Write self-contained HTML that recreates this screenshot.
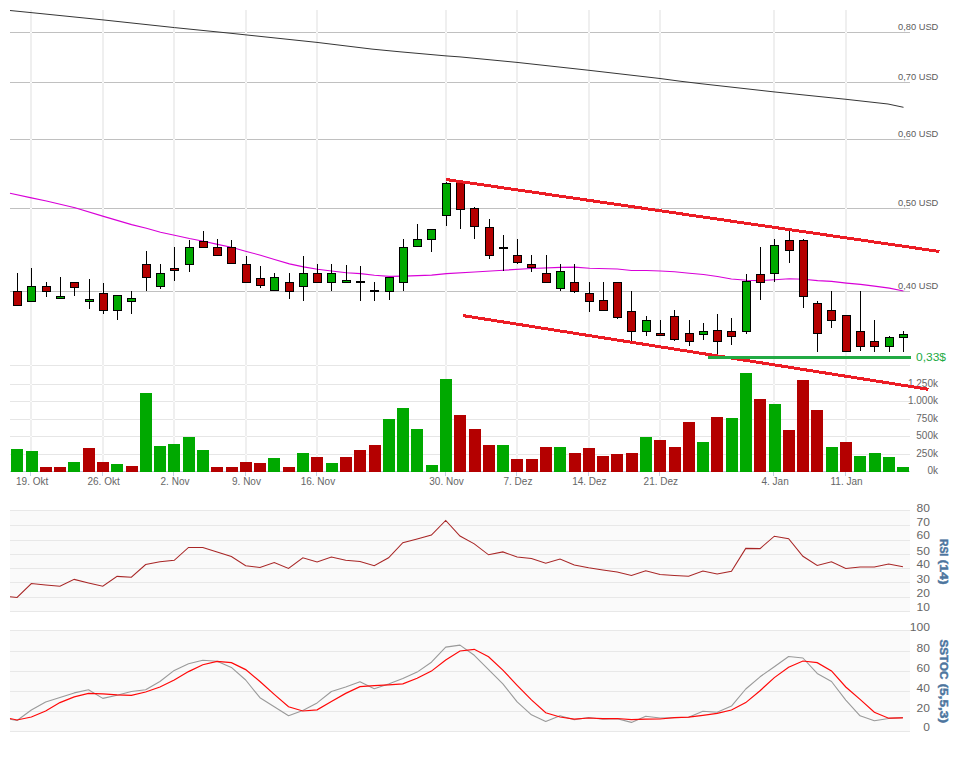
<!DOCTYPE html><html><head><meta charset="utf-8"><title>Chart</title><style>
html,body{margin:0;padding:0;background:#fff;}svg{display:block;}
text{font-family:"Liberation Sans",Arial,sans-serif;}
</style></head><body>
<svg width="968" height="765" viewBox="0 0 968 765">
<rect x="0" y="0" width="968" height="765" fill="#fff"/>
<rect x="10" y="32" width="900" height="1" fill="#c0c0c0"/>
<rect x="10" y="82" width="900" height="1" fill="#c0c0c0"/>
<rect x="10" y="139" width="900" height="1" fill="#c0c0c0"/>
<rect x="10" y="208" width="900" height="1" fill="#c0c0c0"/>
<rect x="10" y="291" width="900" height="1" fill="#c0c0c0"/>
<rect x="10" y="365" width="900" height="1" fill="#e6e6e6"/>
<rect x="10" y="384" width="900" height="1" fill="#e6e6e6"/>
<rect x="10" y="401" width="900" height="1" fill="#e6e6e6"/>
<rect x="10" y="419" width="900" height="1" fill="#e6e6e6"/>
<rect x="10" y="436" width="900" height="1" fill="#e6e6e6"/>
<rect x="10" y="454" width="900" height="1" fill="#e6e6e6"/>
<rect x="30" y="10" width="2" height="461" fill="#efefef"/>
<rect x="30" y="32" width="2" height="1" fill="#f9f9f9"/>
<rect x="30" y="82" width="2" height="1" fill="#f9f9f9"/>
<rect x="30" y="139" width="2" height="1" fill="#f9f9f9"/>
<rect x="30" y="208" width="2" height="1" fill="#f9f9f9"/>
<rect x="30" y="291" width="2" height="1" fill="#f9f9f9"/>
<rect x="30" y="365" width="2" height="1" fill="#f9f9f9"/>
<rect x="30" y="384" width="2" height="1" fill="#f9f9f9"/>
<rect x="30" y="401" width="2" height="1" fill="#f9f9f9"/>
<rect x="30" y="419" width="2" height="1" fill="#f9f9f9"/>
<rect x="30" y="436" width="2" height="1" fill="#f9f9f9"/>
<rect x="30" y="454" width="2" height="1" fill="#f9f9f9"/>
<rect x="102" y="10" width="2" height="461" fill="#efefef"/>
<rect x="102" y="32" width="2" height="1" fill="#f9f9f9"/>
<rect x="102" y="82" width="2" height="1" fill="#f9f9f9"/>
<rect x="102" y="139" width="2" height="1" fill="#f9f9f9"/>
<rect x="102" y="208" width="2" height="1" fill="#f9f9f9"/>
<rect x="102" y="291" width="2" height="1" fill="#f9f9f9"/>
<rect x="102" y="365" width="2" height="1" fill="#f9f9f9"/>
<rect x="102" y="384" width="2" height="1" fill="#f9f9f9"/>
<rect x="102" y="401" width="2" height="1" fill="#f9f9f9"/>
<rect x="102" y="419" width="2" height="1" fill="#f9f9f9"/>
<rect x="102" y="436" width="2" height="1" fill="#f9f9f9"/>
<rect x="102" y="454" width="2" height="1" fill="#f9f9f9"/>
<rect x="173" y="10" width="2" height="461" fill="#efefef"/>
<rect x="173" y="32" width="2" height="1" fill="#f9f9f9"/>
<rect x="173" y="82" width="2" height="1" fill="#f9f9f9"/>
<rect x="173" y="139" width="2" height="1" fill="#f9f9f9"/>
<rect x="173" y="208" width="2" height="1" fill="#f9f9f9"/>
<rect x="173" y="291" width="2" height="1" fill="#f9f9f9"/>
<rect x="173" y="365" width="2" height="1" fill="#f9f9f9"/>
<rect x="173" y="384" width="2" height="1" fill="#f9f9f9"/>
<rect x="173" y="401" width="2" height="1" fill="#f9f9f9"/>
<rect x="173" y="419" width="2" height="1" fill="#f9f9f9"/>
<rect x="173" y="436" width="2" height="1" fill="#f9f9f9"/>
<rect x="173" y="454" width="2" height="1" fill="#f9f9f9"/>
<rect x="245" y="10" width="2" height="461" fill="#efefef"/>
<rect x="245" y="32" width="2" height="1" fill="#f9f9f9"/>
<rect x="245" y="82" width="2" height="1" fill="#f9f9f9"/>
<rect x="245" y="139" width="2" height="1" fill="#f9f9f9"/>
<rect x="245" y="208" width="2" height="1" fill="#f9f9f9"/>
<rect x="245" y="291" width="2" height="1" fill="#f9f9f9"/>
<rect x="245" y="365" width="2" height="1" fill="#f9f9f9"/>
<rect x="245" y="384" width="2" height="1" fill="#f9f9f9"/>
<rect x="245" y="401" width="2" height="1" fill="#f9f9f9"/>
<rect x="245" y="419" width="2" height="1" fill="#f9f9f9"/>
<rect x="245" y="436" width="2" height="1" fill="#f9f9f9"/>
<rect x="245" y="454" width="2" height="1" fill="#f9f9f9"/>
<rect x="316" y="10" width="2" height="461" fill="#efefef"/>
<rect x="316" y="32" width="2" height="1" fill="#f9f9f9"/>
<rect x="316" y="82" width="2" height="1" fill="#f9f9f9"/>
<rect x="316" y="139" width="2" height="1" fill="#f9f9f9"/>
<rect x="316" y="208" width="2" height="1" fill="#f9f9f9"/>
<rect x="316" y="291" width="2" height="1" fill="#f9f9f9"/>
<rect x="316" y="365" width="2" height="1" fill="#f9f9f9"/>
<rect x="316" y="384" width="2" height="1" fill="#f9f9f9"/>
<rect x="316" y="401" width="2" height="1" fill="#f9f9f9"/>
<rect x="316" y="419" width="2" height="1" fill="#f9f9f9"/>
<rect x="316" y="436" width="2" height="1" fill="#f9f9f9"/>
<rect x="316" y="454" width="2" height="1" fill="#f9f9f9"/>
<rect x="445" y="10" width="2" height="461" fill="#efefef"/>
<rect x="445" y="32" width="2" height="1" fill="#f9f9f9"/>
<rect x="445" y="82" width="2" height="1" fill="#f9f9f9"/>
<rect x="445" y="139" width="2" height="1" fill="#f9f9f9"/>
<rect x="445" y="208" width="2" height="1" fill="#f9f9f9"/>
<rect x="445" y="291" width="2" height="1" fill="#f9f9f9"/>
<rect x="445" y="365" width="2" height="1" fill="#f9f9f9"/>
<rect x="445" y="384" width="2" height="1" fill="#f9f9f9"/>
<rect x="445" y="401" width="2" height="1" fill="#f9f9f9"/>
<rect x="445" y="419" width="2" height="1" fill="#f9f9f9"/>
<rect x="445" y="436" width="2" height="1" fill="#f9f9f9"/>
<rect x="445" y="454" width="2" height="1" fill="#f9f9f9"/>
<rect x="516" y="10" width="2" height="461" fill="#efefef"/>
<rect x="516" y="32" width="2" height="1" fill="#f9f9f9"/>
<rect x="516" y="82" width="2" height="1" fill="#f9f9f9"/>
<rect x="516" y="139" width="2" height="1" fill="#f9f9f9"/>
<rect x="516" y="208" width="2" height="1" fill="#f9f9f9"/>
<rect x="516" y="291" width="2" height="1" fill="#f9f9f9"/>
<rect x="516" y="365" width="2" height="1" fill="#f9f9f9"/>
<rect x="516" y="384" width="2" height="1" fill="#f9f9f9"/>
<rect x="516" y="401" width="2" height="1" fill="#f9f9f9"/>
<rect x="516" y="419" width="2" height="1" fill="#f9f9f9"/>
<rect x="516" y="436" width="2" height="1" fill="#f9f9f9"/>
<rect x="516" y="454" width="2" height="1" fill="#f9f9f9"/>
<rect x="588" y="10" width="2" height="461" fill="#efefef"/>
<rect x="588" y="32" width="2" height="1" fill="#f9f9f9"/>
<rect x="588" y="82" width="2" height="1" fill="#f9f9f9"/>
<rect x="588" y="139" width="2" height="1" fill="#f9f9f9"/>
<rect x="588" y="208" width="2" height="1" fill="#f9f9f9"/>
<rect x="588" y="291" width="2" height="1" fill="#f9f9f9"/>
<rect x="588" y="365" width="2" height="1" fill="#f9f9f9"/>
<rect x="588" y="384" width="2" height="1" fill="#f9f9f9"/>
<rect x="588" y="401" width="2" height="1" fill="#f9f9f9"/>
<rect x="588" y="419" width="2" height="1" fill="#f9f9f9"/>
<rect x="588" y="436" width="2" height="1" fill="#f9f9f9"/>
<rect x="588" y="454" width="2" height="1" fill="#f9f9f9"/>
<rect x="659" y="10" width="2" height="461" fill="#efefef"/>
<rect x="659" y="32" width="2" height="1" fill="#f9f9f9"/>
<rect x="659" y="82" width="2" height="1" fill="#f9f9f9"/>
<rect x="659" y="139" width="2" height="1" fill="#f9f9f9"/>
<rect x="659" y="208" width="2" height="1" fill="#f9f9f9"/>
<rect x="659" y="291" width="2" height="1" fill="#f9f9f9"/>
<rect x="659" y="365" width="2" height="1" fill="#f9f9f9"/>
<rect x="659" y="384" width="2" height="1" fill="#f9f9f9"/>
<rect x="659" y="401" width="2" height="1" fill="#f9f9f9"/>
<rect x="659" y="419" width="2" height="1" fill="#f9f9f9"/>
<rect x="659" y="436" width="2" height="1" fill="#f9f9f9"/>
<rect x="659" y="454" width="2" height="1" fill="#f9f9f9"/>
<rect x="773" y="10" width="2" height="461" fill="#efefef"/>
<rect x="773" y="32" width="2" height="1" fill="#f9f9f9"/>
<rect x="773" y="82" width="2" height="1" fill="#f9f9f9"/>
<rect x="773" y="139" width="2" height="1" fill="#f9f9f9"/>
<rect x="773" y="208" width="2" height="1" fill="#f9f9f9"/>
<rect x="773" y="291" width="2" height="1" fill="#f9f9f9"/>
<rect x="773" y="365" width="2" height="1" fill="#f9f9f9"/>
<rect x="773" y="384" width="2" height="1" fill="#f9f9f9"/>
<rect x="773" y="401" width="2" height="1" fill="#f9f9f9"/>
<rect x="773" y="419" width="2" height="1" fill="#f9f9f9"/>
<rect x="773" y="436" width="2" height="1" fill="#f9f9f9"/>
<rect x="773" y="454" width="2" height="1" fill="#f9f9f9"/>
<rect x="845" y="10" width="2" height="461" fill="#efefef"/>
<rect x="845" y="32" width="2" height="1" fill="#f9f9f9"/>
<rect x="845" y="82" width="2" height="1" fill="#f9f9f9"/>
<rect x="845" y="139" width="2" height="1" fill="#f9f9f9"/>
<rect x="845" y="208" width="2" height="1" fill="#f9f9f9"/>
<rect x="845" y="291" width="2" height="1" fill="#f9f9f9"/>
<rect x="845" y="365" width="2" height="1" fill="#f9f9f9"/>
<rect x="845" y="384" width="2" height="1" fill="#f9f9f9"/>
<rect x="845" y="401" width="2" height="1" fill="#f9f9f9"/>
<rect x="845" y="419" width="2" height="1" fill="#f9f9f9"/>
<rect x="845" y="436" width="2" height="1" fill="#f9f9f9"/>
<rect x="845" y="454" width="2" height="1" fill="#f9f9f9"/>
<rect x="10" y="471" width="900" height="1" fill="#c0d0e0"/>
<rect x="30" y="472" width="1" height="4" fill="#c0d0e0"/>
<text x="32.15" y="485" font-size="10" fill="#666" text-anchor="middle">19. Okt</text>
<rect x="102" y="472" width="1" height="4" fill="#c0d0e0"/>
<text x="103.59" y="485" font-size="10" fill="#666" text-anchor="middle">26. Okt</text>
<rect x="173" y="472" width="1" height="4" fill="#c0d0e0"/>
<text x="175.03" y="485" font-size="10" fill="#666" text-anchor="middle">2. Nov</text>
<rect x="245" y="472" width="1" height="4" fill="#c0d0e0"/>
<text x="246.47" y="485" font-size="10" fill="#666" text-anchor="middle">9. Nov</text>
<rect x="316" y="472" width="1" height="4" fill="#c0d0e0"/>
<text x="317.91" y="485" font-size="10" fill="#666" text-anchor="middle">16. Nov</text>
<rect x="445" y="472" width="1" height="4" fill="#c0d0e0"/>
<text x="446.51" y="485" font-size="10" fill="#666" text-anchor="middle">30. Nov</text>
<rect x="516" y="472" width="1" height="4" fill="#c0d0e0"/>
<text x="517.95" y="485" font-size="10" fill="#666" text-anchor="middle">7. Dez</text>
<rect x="588" y="472" width="1" height="4" fill="#c0d0e0"/>
<text x="589.39" y="485" font-size="10" fill="#666" text-anchor="middle">14. Dez</text>
<rect x="659" y="472" width="1" height="4" fill="#c0d0e0"/>
<text x="660.83" y="485" font-size="10" fill="#666" text-anchor="middle">21. Dez</text>
<rect x="773" y="472" width="1" height="4" fill="#c0d0e0"/>
<text x="775.13" y="485" font-size="10" fill="#666" text-anchor="middle">4. Jan</text>
<rect x="845" y="472" width="1" height="4" fill="#c0d0e0"/>
<text x="846.58" y="485" font-size="10" fill="#666" text-anchor="middle">11. Jan</text>
<text x="898" y="30" font-size="9.6" fill="#5c5c5c" textLength="40.3" lengthAdjust="spacingAndGlyphs">0,80 USD</text>
<text x="898" y="80" font-size="9.6" fill="#5c5c5c" textLength="40.3" lengthAdjust="spacingAndGlyphs">0,70 USD</text>
<text x="898" y="137" font-size="9.6" fill="#5c5c5c" textLength="40.3" lengthAdjust="spacingAndGlyphs">0,60 USD</text>
<text x="898" y="206" font-size="9.6" fill="#5c5c5c" textLength="40.3" lengthAdjust="spacingAndGlyphs">0,50 USD</text>
<text x="898" y="289" font-size="9.6" fill="#5c5c5c" textLength="40.3" lengthAdjust="spacingAndGlyphs">0,40 USD</text>
<rect x="11" y="449" width="12" height="23" fill="#00a900"/>
<rect x="26" y="451" width="12" height="21" fill="#00a900"/>
<rect x="40" y="467" width="12" height="5" fill="#b40000"/>
<rect x="54" y="467" width="12" height="5" fill="#b40000"/>
<rect x="68" y="462" width="12" height="10" fill="#00a900"/>
<rect x="83" y="448" width="12" height="24" fill="#b40000"/>
<rect x="97" y="462" width="12" height="10" fill="#b40000"/>
<rect x="111" y="464" width="12" height="8" fill="#00a900"/>
<rect x="126" y="466" width="12" height="6" fill="#b40000"/>
<rect x="140" y="393" width="12" height="79" fill="#00a900"/>
<rect x="154" y="446" width="12" height="26" fill="#00a900"/>
<rect x="168" y="444" width="12" height="28" fill="#00a900"/>
<rect x="183" y="437" width="12" height="35" fill="#00a900"/>
<rect x="197" y="450" width="12" height="22" fill="#00a900"/>
<rect x="211" y="467" width="12" height="5" fill="#b40000"/>
<rect x="226" y="467" width="12" height="5" fill="#b40000"/>
<rect x="240" y="462" width="12" height="10" fill="#b40000"/>
<rect x="254" y="463" width="12" height="9" fill="#b40000"/>
<rect x="268" y="458" width="12" height="14" fill="#00a900"/>
<rect x="283" y="467" width="12" height="5" fill="#b40000"/>
<rect x="297" y="453" width="12" height="19" fill="#00a900"/>
<rect x="311" y="457" width="12" height="15" fill="#b40000"/>
<rect x="326" y="463" width="12" height="9" fill="#00a900"/>
<rect x="340" y="457" width="12" height="15" fill="#b40000"/>
<rect x="354" y="450" width="12" height="22" fill="#b40000"/>
<rect x="369" y="445" width="12" height="27" fill="#b40000"/>
<rect x="383" y="419" width="12" height="53" fill="#00a900"/>
<rect x="397" y="408" width="12" height="64" fill="#00a900"/>
<rect x="411" y="429" width="12" height="43" fill="#00a900"/>
<rect x="426" y="465" width="12" height="7" fill="#00a900"/>
<rect x="440" y="379" width="12" height="93" fill="#00a900"/>
<rect x="454" y="415" width="12" height="57" fill="#b40000"/>
<rect x="469" y="429" width="12" height="43" fill="#b40000"/>
<rect x="483" y="445" width="12" height="27" fill="#b40000"/>
<rect x="497" y="445" width="12" height="27" fill="#00a900"/>
<rect x="511" y="459" width="12" height="13" fill="#b40000"/>
<rect x="526" y="459" width="12" height="13" fill="#b40000"/>
<rect x="540" y="447" width="12" height="25" fill="#b40000"/>
<rect x="554" y="447" width="12" height="25" fill="#00a900"/>
<rect x="569" y="453" width="12" height="19" fill="#b40000"/>
<rect x="583" y="448" width="12" height="24" fill="#b40000"/>
<rect x="597" y="456" width="12" height="16" fill="#b40000"/>
<rect x="611" y="454" width="12" height="18" fill="#b40000"/>
<rect x="626" y="453" width="12" height="19" fill="#b40000"/>
<rect x="640" y="437" width="12" height="35" fill="#00a900"/>
<rect x="654" y="440" width="12" height="32" fill="#b40000"/>
<rect x="669" y="447" width="12" height="25" fill="#b40000"/>
<rect x="683" y="422" width="12" height="50" fill="#b40000"/>
<rect x="697" y="442" width="12" height="30" fill="#00a900"/>
<rect x="711" y="417" width="12" height="55" fill="#b40000"/>
<rect x="726" y="418" width="12" height="54" fill="#00a900"/>
<rect x="740" y="373" width="12" height="99" fill="#00a900"/>
<rect x="754" y="399" width="12" height="73" fill="#b40000"/>
<rect x="769" y="404" width="12" height="68" fill="#00a900"/>
<rect x="783" y="430" width="12" height="42" fill="#b40000"/>
<rect x="797" y="380" width="12" height="92" fill="#b40000"/>
<rect x="811" y="410" width="12" height="62" fill="#b40000"/>
<rect x="826" y="447" width="12" height="25" fill="#00a900"/>
<rect x="840" y="442" width="12" height="30" fill="#b40000"/>
<rect x="854" y="456" width="12" height="16" fill="#00a900"/>
<rect x="869" y="453" width="12" height="19" fill="#00a900"/>
<rect x="883" y="457" width="12" height="15" fill="#00a900"/>
<rect x="897" y="467" width="12" height="5" fill="#00a900"/>
<text x="938" y="386.5" font-size="10" fill="#666" text-anchor="end">1.250k</text>
<text x="938" y="403.5" font-size="10" fill="#666" text-anchor="end">1.000k</text>
<text x="938" y="421.5" font-size="10" fill="#666" text-anchor="end">750k</text>
<text x="938" y="438.5" font-size="10" fill="#666" text-anchor="end">500k</text>
<text x="938" y="456.5" font-size="10" fill="#666" text-anchor="end">250k</text>
<text x="938" y="473.5" font-size="10" fill="#666" text-anchor="end">0k</text>
<polyline points="10,10.5 31,12.6 103,19.9 174.5,27.6 230,33.2 246,34.9 317,42.4 372,49.1 400,51.8 446,55.9 460,56.9 517,62.4 589,70.3 660,78.5 680,81.2 700,83.6 774,91.9 846,99.3 888,104 903.5,107.3" fill="none" stroke="#363636" stroke-width="1"/>
<polyline points="10,193.3 31.4,197.9 46.4,201 75,207.8 103.5,216.4 131.6,224.6 146.4,228.3 160.5,232.2 174.5,235.2 189.4,238.5 203.5,241.2 217.5,244.4 231.4,247.3 246.4,251.5 260.5,255.2 274.5,259.5 289.4,263.9 303.5,266.9 317.5,269.2 331.6,271 346.4,272.7 360.5,273.6 374.4,275.3 389.4,276.4 403.5,276.1 431.6,275.1 446.5,273.6 474.5,272 503.4,270.2 531.4,268.5 560.5,267.4 574.4,267.2 589.6,268.2 617.4,269 631.5,270.5 646.5,270.5 660.4,271 674.5,271.7 689.4,273.3 703.5,274.5 717.5,276.5 731.4,279 746.7,280.3 760.4,280.6 774.5,279.8 789.4,278.8 803.5,279.2 817.6,280.6 831.6,281.4 846.5,283.1 860.5,284.4 874.4,286.1 889.4,288.1 903.5,291" fill="none" stroke="#d800d8" stroke-width="1.15"/>
<line x1="17.5" y1="273" x2="17.5" y2="291" stroke="#000" stroke-width="1"/>
<rect x="13.5" y="291.5" width="8" height="14" fill="#b40000" stroke="#000" stroke-width="1"/>
<line x1="31.5" y1="268" x2="31.5" y2="286" stroke="#000" stroke-width="1"/>
<rect x="27.5" y="286.5" width="8" height="15" fill="#00a900" stroke="#000" stroke-width="1"/>
<line x1="46.5" y1="282" x2="46.5" y2="286" stroke="#000" stroke-width="1"/>
<line x1="46.5" y1="292" x2="46.5" y2="297" stroke="#000" stroke-width="1"/>
<rect x="42.5" y="286.5" width="8" height="5" fill="#b40000" stroke="#000" stroke-width="1"/>
<line x1="60.5" y1="277" x2="60.5" y2="296" stroke="#000" stroke-width="1"/>
<rect x="56.5" y="296.5" width="8" height="2" fill="#00a900" stroke="#000" stroke-width="1"/>
<line x1="74.5" y1="288" x2="74.5" y2="296" stroke="#000" stroke-width="1"/>
<rect x="70.5" y="282.5" width="8" height="5" fill="#b40000" stroke="#000" stroke-width="1"/>
<line x1="89.5" y1="279" x2="89.5" y2="299" stroke="#000" stroke-width="1"/>
<line x1="89.5" y1="302" x2="89.5" y2="309" stroke="#000" stroke-width="1"/>
<rect x="85.5" y="299.5" width="8" height="2" fill="#00a900" stroke="#000" stroke-width="1"/>
<line x1="103.5" y1="283" x2="103.5" y2="293" stroke="#000" stroke-width="1"/>
<line x1="103.5" y1="311" x2="103.5" y2="314" stroke="#000" stroke-width="1"/>
<rect x="99.5" y="293.5" width="8" height="17" fill="#b40000" stroke="#000" stroke-width="1"/>
<line x1="117.5" y1="311" x2="117.5" y2="320" stroke="#000" stroke-width="1"/>
<rect x="113.5" y="295.5" width="8" height="15" fill="#00a900" stroke="#000" stroke-width="1"/>
<line x1="131.5" y1="291" x2="131.5" y2="298" stroke="#000" stroke-width="1"/>
<line x1="131.5" y1="302" x2="131.5" y2="314" stroke="#000" stroke-width="1"/>
<rect x="127.5" y="298.5" width="8" height="3" fill="#00a900" stroke="#000" stroke-width="1"/>
<line x1="146.5" y1="251" x2="146.5" y2="264" stroke="#000" stroke-width="1"/>
<line x1="146.5" y1="278" x2="146.5" y2="291" stroke="#000" stroke-width="1"/>
<rect x="142.5" y="264.5" width="8" height="13" fill="#b40000" stroke="#000" stroke-width="1"/>
<line x1="160.5" y1="264" x2="160.5" y2="273" stroke="#000" stroke-width="1"/>
<line x1="160.5" y1="287" x2="160.5" y2="289" stroke="#000" stroke-width="1"/>
<rect x="156.5" y="273.5" width="8" height="13" fill="#00a900" stroke="#000" stroke-width="1"/>
<line x1="174.5" y1="247" x2="174.5" y2="268" stroke="#000" stroke-width="1"/>
<line x1="174.5" y1="271" x2="174.5" y2="281" stroke="#000" stroke-width="1"/>
<rect x="170.5" y="268.5" width="8" height="2" fill="#b40000" stroke="#000" stroke-width="1"/>
<line x1="189.5" y1="240" x2="189.5" y2="247" stroke="#000" stroke-width="1"/>
<line x1="189.5" y1="265" x2="189.5" y2="272" stroke="#000" stroke-width="1"/>
<rect x="185.5" y="247.5" width="8" height="17" fill="#00a900" stroke="#000" stroke-width="1"/>
<line x1="203.5" y1="231" x2="203.5" y2="241" stroke="#000" stroke-width="1"/>
<rect x="199.5" y="241.5" width="8" height="6" fill="#b40000" stroke="#000" stroke-width="1"/>
<line x1="217.5" y1="239" x2="217.5" y2="247" stroke="#000" stroke-width="1"/>
<rect x="213.5" y="247.5" width="8" height="8" fill="#b40000" stroke="#000" stroke-width="1"/>
<line x1="231.5" y1="240" x2="231.5" y2="247" stroke="#000" stroke-width="1"/>
<rect x="227.5" y="247.5" width="8" height="16" fill="#b40000" stroke="#000" stroke-width="1"/>
<line x1="246.5" y1="256" x2="246.5" y2="264" stroke="#000" stroke-width="1"/>
<rect x="242.5" y="264.5" width="8" height="18" fill="#b40000" stroke="#000" stroke-width="1"/>
<line x1="260.5" y1="266" x2="260.5" y2="278" stroke="#000" stroke-width="1"/>
<line x1="260.5" y1="286" x2="260.5" y2="288" stroke="#000" stroke-width="1"/>
<rect x="256.5" y="278.5" width="8" height="7" fill="#b40000" stroke="#000" stroke-width="1"/>
<line x1="274.5" y1="273" x2="274.5" y2="277" stroke="#000" stroke-width="1"/>
<rect x="270.5" y="277.5" width="8" height="13" fill="#00a900" stroke="#000" stroke-width="1"/>
<line x1="289.5" y1="273" x2="289.5" y2="282" stroke="#000" stroke-width="1"/>
<line x1="289.5" y1="292" x2="289.5" y2="299" stroke="#000" stroke-width="1"/>
<rect x="285.5" y="282.5" width="8" height="9" fill="#b40000" stroke="#000" stroke-width="1"/>
<line x1="303.5" y1="256" x2="303.5" y2="273" stroke="#000" stroke-width="1"/>
<line x1="303.5" y1="287" x2="303.5" y2="301" stroke="#000" stroke-width="1"/>
<rect x="299.5" y="273.5" width="8" height="13" fill="#00a900" stroke="#000" stroke-width="1"/>
<line x1="317.5" y1="264" x2="317.5" y2="273" stroke="#000" stroke-width="1"/>
<rect x="313.5" y="273.5" width="8" height="9" fill="#b40000" stroke="#000" stroke-width="1"/>
<line x1="331.5" y1="264" x2="331.5" y2="273" stroke="#000" stroke-width="1"/>
<line x1="331.5" y1="283" x2="331.5" y2="291" stroke="#000" stroke-width="1"/>
<rect x="327.5" y="273.5" width="8" height="9" fill="#00a900" stroke="#000" stroke-width="1"/>
<line x1="346.5" y1="265" x2="346.5" y2="280" stroke="#000" stroke-width="1"/>
<rect x="342.5" y="280.5" width="8" height="2" fill="#00a900" stroke="#000" stroke-width="1"/>
<line x1="360.5" y1="266" x2="360.5" y2="282" stroke="#000" stroke-width="1"/>
<line x1="360.5" y1="282" x2="360.5" y2="301" stroke="#000" stroke-width="1"/>
<rect x="356" y="281" width="9" height="2" fill="#000"/>
<line x1="374.5" y1="282" x2="374.5" y2="291" stroke="#000" stroke-width="1"/>
<line x1="374.5" y1="292" x2="374.5" y2="301" stroke="#000" stroke-width="1"/>
<rect x="370" y="290" width="9" height="2" fill="#000"/>
<line x1="389.5" y1="292" x2="389.5" y2="300" stroke="#000" stroke-width="1"/>
<rect x="385.5" y="277.5" width="8" height="14" fill="#00a900" stroke="#000" stroke-width="1"/>
<line x1="403.5" y1="239" x2="403.5" y2="247" stroke="#000" stroke-width="1"/>
<line x1="403.5" y1="283" x2="403.5" y2="291" stroke="#000" stroke-width="1"/>
<rect x="399.5" y="247.5" width="8" height="35" fill="#00a900" stroke="#000" stroke-width="1"/>
<line x1="417.5" y1="224" x2="417.5" y2="239" stroke="#000" stroke-width="1"/>
<rect x="413.5" y="239.5" width="8" height="7" fill="#00a900" stroke="#000" stroke-width="1"/>
<line x1="431.5" y1="240" x2="431.5" y2="252" stroke="#000" stroke-width="1"/>
<rect x="427.5" y="229.5" width="8" height="10" fill="#00a900" stroke="#000" stroke-width="1"/>
<line x1="446.5" y1="182" x2="446.5" y2="183" stroke="#000" stroke-width="1"/>
<line x1="446.5" y1="216" x2="446.5" y2="226" stroke="#000" stroke-width="1"/>
<rect x="442.5" y="183.5" width="8" height="32" fill="#00a900" stroke="#000" stroke-width="1"/>
<line x1="460.5" y1="210" x2="460.5" y2="229" stroke="#000" stroke-width="1"/>
<rect x="456.5" y="182.5" width="8" height="27" fill="#b40000" stroke="#000" stroke-width="1"/>
<line x1="474.5" y1="207" x2="474.5" y2="208" stroke="#000" stroke-width="1"/>
<line x1="474.5" y1="227" x2="474.5" y2="239" stroke="#000" stroke-width="1"/>
<rect x="470.5" y="208.5" width="8" height="18" fill="#b40000" stroke="#000" stroke-width="1"/>
<line x1="489.5" y1="219" x2="489.5" y2="227" stroke="#000" stroke-width="1"/>
<line x1="489.5" y1="256" x2="489.5" y2="259" stroke="#000" stroke-width="1"/>
<rect x="485.5" y="227.5" width="8" height="28" fill="#b40000" stroke="#000" stroke-width="1"/>
<line x1="503.5" y1="235" x2="503.5" y2="248" stroke="#000" stroke-width="1"/>
<line x1="503.5" y1="248" x2="503.5" y2="271" stroke="#000" stroke-width="1"/>
<rect x="499" y="247" width="9" height="2" fill="#000"/>
<line x1="517.5" y1="239" x2="517.5" y2="255" stroke="#000" stroke-width="1"/>
<line x1="517.5" y1="263" x2="517.5" y2="264" stroke="#000" stroke-width="1"/>
<rect x="513.5" y="255.5" width="8" height="7" fill="#b40000" stroke="#000" stroke-width="1"/>
<line x1="531.5" y1="255" x2="531.5" y2="264" stroke="#000" stroke-width="1"/>
<line x1="531.5" y1="268" x2="531.5" y2="272" stroke="#000" stroke-width="1"/>
<rect x="527.5" y="264.5" width="8" height="3" fill="#b40000" stroke="#000" stroke-width="1"/>
<line x1="546.5" y1="255" x2="546.5" y2="273" stroke="#000" stroke-width="1"/>
<rect x="542.5" y="273.5" width="8" height="9" fill="#b40000" stroke="#000" stroke-width="1"/>
<line x1="560.5" y1="264" x2="560.5" y2="271" stroke="#000" stroke-width="1"/>
<line x1="560.5" y1="289" x2="560.5" y2="291" stroke="#000" stroke-width="1"/>
<rect x="556.5" y="271.5" width="8" height="17" fill="#00a900" stroke="#000" stroke-width="1"/>
<line x1="574.5" y1="264" x2="574.5" y2="282" stroke="#000" stroke-width="1"/>
<line x1="574.5" y1="292" x2="574.5" y2="293" stroke="#000" stroke-width="1"/>
<rect x="570.5" y="282.5" width="8" height="9" fill="#b40000" stroke="#000" stroke-width="1"/>
<line x1="589.5" y1="282" x2="589.5" y2="293" stroke="#000" stroke-width="1"/>
<line x1="589.5" y1="302" x2="589.5" y2="312" stroke="#000" stroke-width="1"/>
<rect x="585.5" y="293.5" width="8" height="8" fill="#b40000" stroke="#000" stroke-width="1"/>
<line x1="603.5" y1="282" x2="603.5" y2="300" stroke="#000" stroke-width="1"/>
<rect x="599.5" y="300.5" width="8" height="10" fill="#b40000" stroke="#000" stroke-width="1"/>
<line x1="617.5" y1="318" x2="617.5" y2="319" stroke="#000" stroke-width="1"/>
<rect x="613.5" y="282.5" width="8" height="35" fill="#b40000" stroke="#000" stroke-width="1"/>
<line x1="631.5" y1="291" x2="631.5" y2="311" stroke="#000" stroke-width="1"/>
<line x1="631.5" y1="332" x2="631.5" y2="341" stroke="#000" stroke-width="1"/>
<rect x="627.5" y="311.5" width="8" height="20" fill="#b40000" stroke="#000" stroke-width="1"/>
<line x1="646.5" y1="316" x2="646.5" y2="320" stroke="#000" stroke-width="1"/>
<line x1="646.5" y1="332" x2="646.5" y2="336" stroke="#000" stroke-width="1"/>
<rect x="642.5" y="320.5" width="8" height="11" fill="#00a900" stroke="#000" stroke-width="1"/>
<line x1="660.5" y1="320" x2="660.5" y2="333" stroke="#000" stroke-width="1"/>
<rect x="656.5" y="333.5" width="8" height="2" fill="#b40000" stroke="#000" stroke-width="1"/>
<line x1="674.5" y1="310" x2="674.5" y2="316" stroke="#000" stroke-width="1"/>
<line x1="674.5" y1="340" x2="674.5" y2="341" stroke="#000" stroke-width="1"/>
<rect x="670.5" y="316.5" width="8" height="23" fill="#b40000" stroke="#000" stroke-width="1"/>
<line x1="689.5" y1="320" x2="689.5" y2="333" stroke="#000" stroke-width="1"/>
<line x1="689.5" y1="342" x2="689.5" y2="346" stroke="#000" stroke-width="1"/>
<rect x="685.5" y="333.5" width="8" height="8" fill="#b40000" stroke="#000" stroke-width="1"/>
<line x1="703.5" y1="323" x2="703.5" y2="331" stroke="#000" stroke-width="1"/>
<line x1="703.5" y1="335" x2="703.5" y2="340" stroke="#000" stroke-width="1"/>
<rect x="699.5" y="331.5" width="8" height="3" fill="#00a900" stroke="#000" stroke-width="1"/>
<line x1="717.5" y1="314" x2="717.5" y2="330" stroke="#000" stroke-width="1"/>
<line x1="717.5" y1="342" x2="717.5" y2="355" stroke="#000" stroke-width="1"/>
<rect x="713.5" y="330.5" width="8" height="11" fill="#b40000" stroke="#000" stroke-width="1"/>
<line x1="731.5" y1="318" x2="731.5" y2="331" stroke="#000" stroke-width="1"/>
<line x1="731.5" y1="337" x2="731.5" y2="345" stroke="#000" stroke-width="1"/>
<rect x="727.5" y="331.5" width="8" height="5" fill="#b40000" stroke="#000" stroke-width="1"/>
<line x1="746.5" y1="274" x2="746.5" y2="281" stroke="#000" stroke-width="1"/>
<line x1="746.5" y1="332" x2="746.5" y2="334" stroke="#000" stroke-width="1"/>
<rect x="742.5" y="281.5" width="8" height="50" fill="#00a900" stroke="#000" stroke-width="1"/>
<line x1="760.5" y1="247" x2="760.5" y2="274" stroke="#000" stroke-width="1"/>
<line x1="760.5" y1="283" x2="760.5" y2="300" stroke="#000" stroke-width="1"/>
<rect x="756.5" y="274.5" width="8" height="8" fill="#b40000" stroke="#000" stroke-width="1"/>
<line x1="774.5" y1="239" x2="774.5" y2="245" stroke="#000" stroke-width="1"/>
<line x1="774.5" y1="274" x2="774.5" y2="282" stroke="#000" stroke-width="1"/>
<rect x="770.5" y="245.5" width="8" height="28" fill="#00a900" stroke="#000" stroke-width="1"/>
<line x1="789.5" y1="231" x2="789.5" y2="240" stroke="#000" stroke-width="1"/>
<line x1="789.5" y1="251" x2="789.5" y2="263" stroke="#000" stroke-width="1"/>
<rect x="785.5" y="240.5" width="8" height="10" fill="#b40000" stroke="#000" stroke-width="1"/>
<line x1="803.5" y1="239" x2="803.5" y2="240" stroke="#000" stroke-width="1"/>
<line x1="803.5" y1="297" x2="803.5" y2="308" stroke="#000" stroke-width="1"/>
<rect x="799.5" y="240.5" width="8" height="56" fill="#b40000" stroke="#000" stroke-width="1"/>
<line x1="817.5" y1="301" x2="817.5" y2="303" stroke="#000" stroke-width="1"/>
<line x1="817.5" y1="334" x2="817.5" y2="352" stroke="#000" stroke-width="1"/>
<rect x="813.5" y="303.5" width="8" height="30" fill="#b40000" stroke="#000" stroke-width="1"/>
<line x1="831.5" y1="291" x2="831.5" y2="310" stroke="#000" stroke-width="1"/>
<line x1="831.5" y1="321" x2="831.5" y2="328" stroke="#000" stroke-width="1"/>
<rect x="827.5" y="310.5" width="8" height="10" fill="#b40000" stroke="#000" stroke-width="1"/>
<rect x="842.5" y="315.5" width="8" height="36" fill="#b40000" stroke="#000" stroke-width="1"/>
<line x1="860.5" y1="291" x2="860.5" y2="331" stroke="#000" stroke-width="1"/>
<line x1="860.5" y1="347" x2="860.5" y2="351" stroke="#000" stroke-width="1"/>
<rect x="856.5" y="331.5" width="8" height="15" fill="#b40000" stroke="#000" stroke-width="1"/>
<line x1="874.5" y1="320" x2="874.5" y2="341" stroke="#000" stroke-width="1"/>
<line x1="874.5" y1="347" x2="874.5" y2="352" stroke="#000" stroke-width="1"/>
<rect x="870.5" y="341.5" width="8" height="5" fill="#b40000" stroke="#000" stroke-width="1"/>
<line x1="889.5" y1="336" x2="889.5" y2="337" stroke="#000" stroke-width="1"/>
<line x1="889.5" y1="347" x2="889.5" y2="352" stroke="#000" stroke-width="1"/>
<rect x="885.5" y="337.5" width="8" height="9" fill="#00a900" stroke="#000" stroke-width="1"/>
<line x1="903.5" y1="331" x2="903.5" y2="334" stroke="#000" stroke-width="1"/>
<line x1="903.5" y1="338" x2="903.5" y2="352" stroke="#000" stroke-width="1"/>
<rect x="899.5" y="334.5" width="8" height="3" fill="#00a900" stroke="#000" stroke-width="1"/>
<line x1="446" y1="179.5" x2="939.5" y2="251.5" stroke="#ec1c24" stroke-width="3" shape-rendering="crispEdges"/>
<line x1="463" y1="315.6" x2="928.5" y2="389.3" stroke="#ec1c24" stroke-width="3" shape-rendering="crispEdges"/>
<rect x="708" y="356" width="203" height="3" fill="#22aa44"/>
<text x="916" y="361" font-size="11" fill="#22aa44" textLength="30" lengthAdjust="spacingAndGlyphs">0,33$</text>
<rect x="10" y="510" width="900" height="102" fill="#fafafa"/>
<rect x="10" y="510" width="900" height="1" fill="#e8e8e8"/>
<rect x="10" y="525" width="900" height="1" fill="#e8e8e8"/>
<rect x="10" y="540" width="900" height="1" fill="#e8e8e8"/>
<rect x="10" y="554" width="900" height="1" fill="#e8e8e8"/>
<rect x="10" y="568" width="900" height="1" fill="#e8e8e8"/>
<rect x="10" y="582" width="900" height="1" fill="#e8e8e8"/>
<rect x="10" y="597" width="900" height="1" fill="#e8e8e8"/>
<rect x="10" y="611" width="900" height="1" fill="#e8e8e8"/>
<text x="930" y="511.5" font-size="11" fill="#666" text-anchor="end" textLength="13.4" lengthAdjust="spacingAndGlyphs">80</text>
<text x="930" y="525.5" font-size="11" fill="#666" text-anchor="end" textLength="13.4" lengthAdjust="spacingAndGlyphs">70</text>
<text x="930" y="539.2" font-size="11" fill="#666" text-anchor="end" textLength="13.4" lengthAdjust="spacingAndGlyphs">60</text>
<text x="930" y="554.5" font-size="11" fill="#666" text-anchor="end" textLength="13.4" lengthAdjust="spacingAndGlyphs">50</text>
<text x="930" y="568.4" font-size="11" fill="#666" text-anchor="end" textLength="13.4" lengthAdjust="spacingAndGlyphs">40</text>
<text x="930" y="582.5" font-size="11" fill="#666" text-anchor="end" textLength="13.4" lengthAdjust="spacingAndGlyphs">30</text>
<text x="930" y="596.6" font-size="11" fill="#666" text-anchor="end" textLength="13.4" lengthAdjust="spacingAndGlyphs">20</text>
<text x="930" y="611.3" font-size="11" fill="#666" text-anchor="end" textLength="13.4" lengthAdjust="spacingAndGlyphs">10</text>
<polyline points="10,596.7 17.06,597.5 31.35,583.6 45.64,585 59.92,586.3 74.21,579.4 88.5,582.9 102.79,586.3 117.08,576.4 131.37,577.2 145.65,564.5 159.94,561.8 174.23,560.3 188.52,547.4 202.81,547.4 217.09,552.1 231.38,556.6 245.67,565.7 259.96,567.5 274.25,562.5 288.54,568.5 302.82,557.8 317.11,562 331.4,557.1 345.69,560.3 359.98,561.5 374.26,565.7 388.55,557.8 402.84,542.7 417.13,539 431.42,535 445.71,520.4 459.99,536 474.28,543.9 488.57,554.8 502.86,551.9 517.15,557.1 531.44,558.6 545.72,563.3 560.01,559.1 574.3,565 588.59,567.7 602.88,570 617.16,572 631.45,575.4 645.74,570.7 660.03,574.4 674.32,575.4 688.61,576.2 702.89,571 717.18,573.9 731.47,571.2 745.76,548.4 760.05,548.6 774.33,536.2 788.62,538.7 802.91,556.3 817.2,565.5 831.49,561.8 845.78,568.5 860.06,567 874.35,567 888.64,564.1 902.93,566.8" fill="none" stroke="#a82626" stroke-width="1.05"/>
<text transform="translate(940.2,539) rotate(90)" font-size="11.6" font-weight="bold" fill="#4d759e" stroke="#4d759e" stroke-width="0.45" textLength="17.2" lengthAdjust="spacingAndGlyphs">RSI</text>
<text transform="translate(940.2,559.6) rotate(90)" font-size="11.6" font-weight="bold" fill="#4d759e" stroke="#4d759e" stroke-width="0.45" textLength="25" lengthAdjust="spacingAndGlyphs">(14)</text>
<rect x="10" y="630" width="900" height="102" fill="#fafafa"/>
<rect x="10" y="630" width="900" height="1" fill="#e8e8e8"/>
<rect x="10" y="651" width="900" height="1" fill="#e8e8e8"/>
<rect x="10" y="671" width="900" height="1" fill="#e8e8e8"/>
<rect x="10" y="691" width="900" height="1" fill="#e8e8e8"/>
<rect x="10" y="711" width="900" height="1" fill="#e8e8e8"/>
<rect x="10" y="731" width="900" height="1" fill="#e8e8e8"/>
<text x="930" y="631.4" font-size="11" fill="#666" text-anchor="end" textLength="20.2" lengthAdjust="spacingAndGlyphs">100</text>
<text x="930" y="651.6" font-size="11" fill="#666" text-anchor="end" textLength="13.4" lengthAdjust="spacingAndGlyphs">80</text>
<text x="930" y="671.6" font-size="11" fill="#666" text-anchor="end" textLength="13.4" lengthAdjust="spacingAndGlyphs">60</text>
<text x="930" y="691.5" font-size="11" fill="#666" text-anchor="end" textLength="13.4" lengthAdjust="spacingAndGlyphs">40</text>
<text x="930" y="711.6" font-size="11" fill="#666" text-anchor="end" textLength="13.4" lengthAdjust="spacingAndGlyphs">20</text>
<text x="930" y="731.4" font-size="11" fill="#666" text-anchor="end" textLength="6.7" lengthAdjust="spacingAndGlyphs">0</text>
<polyline points="10,719.2 17.06,720.5 31.35,710 45.64,701.9 59.92,697.4 74.21,692.9 88.5,689.7 102.79,698.4 117.08,695.2 131.37,691.5 145.65,689.7 159.94,681.5 174.23,670.4 188.52,663.7 202.81,660.2 217.09,661.2 231.38,667.4 245.67,680 259.96,697.7 274.25,706.8 288.54,715.8 302.82,710.5 317.11,702.9 331.4,691.5 345.69,687 359.98,681.8 374.26,688.7 388.55,684 402.84,678.6 417.13,672.1 431.42,662.2 445.71,647.1 459.99,645.1 474.28,655.3 488.57,669.6 502.86,683.8 517.15,701.9 531.44,714.8 545.72,721.5 560.01,715.8 574.3,719.7 588.59,717.5 602.88,719.2 617.16,718.7 631.45,722.4 645.74,716.2 660.03,718 674.32,717.7 688.61,717.2 702.89,711.3 717.18,712.3 731.47,706.1 745.76,689 760.05,676.8 774.33,666.7 788.62,656.5 802.91,658 817.2,673.4 831.49,681.5 845.78,700.1 860.06,715.8 874.35,720.7 888.64,718.5 902.93,717.5" fill="none" stroke="#9a9a9a" stroke-width="1.1" stroke-linejoin="round"/>
<polyline points="10,718.5 17.06,720 31.35,717 45.64,711 59.92,702.6 74.21,696.9 88.5,693.4 102.79,693.9 117.08,694.9 131.37,695.4 145.65,692 159.94,687 174.23,680 188.52,671.6 202.81,664.7 217.09,661.4 231.38,662.7 245.67,669.6 259.96,681.5 274.25,694.4 288.54,706.8 302.82,711 317.11,709.8 331.4,701.4 345.69,693.4 359.98,686.7 374.26,685.7 388.55,684.8 402.84,683.8 417.13,678.3 431.42,671.1 445.71,660 459.99,651 474.28,649.3 488.57,656.7 502.86,670.1 517.15,685.3 531.44,699.9 545.72,712.8 560.01,717 574.3,719.2 588.59,718 602.88,718.7 617.16,718.5 631.45,719.7 645.74,719.2 660.03,719 674.32,717.7 688.61,717.2 702.89,715.3 717.18,713.3 731.47,710 745.76,702.6 760.05,690.7 774.33,677.6 788.62,667.2 802.91,661 817.2,662.7 831.49,670.9 845.78,687 860.06,699.4 874.35,712.3 888.64,718.2 902.93,717.8" fill="none" stroke="#ff0808" stroke-width="1.2"/>
<text transform="translate(940.2,639.5) rotate(90)" font-size="11.6" font-weight="bold" fill="#4d759e" stroke="#4d759e" stroke-width="0.45" textLength="40" lengthAdjust="spacingAndGlyphs">SSTOC</text>
<text transform="translate(940.2,683.4) rotate(90)" font-size="11.6" font-weight="bold" fill="#4d759e" stroke="#4d759e" stroke-width="0.45" textLength="39.6" lengthAdjust="spacingAndGlyphs">(5,5,3)</text>
</svg></body></html>
